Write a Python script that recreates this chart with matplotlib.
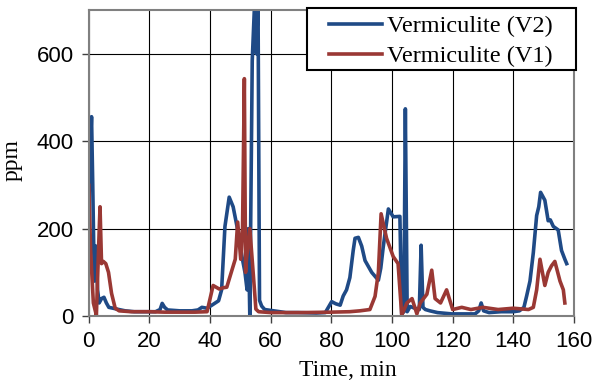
import matplotlib.pyplot as plt
from matplotlib.patches import Rectangle

# V2 (blue) series: time in min, concentration in ppm
t_v2 = [0, 0.5, 0.9, 1.3, 1.8, 2.4, 2.9, 3.4, 4.2, 5.0,
        5.8, 6.6, 8, 9.9, 12, 15, 18, 22, 23.5, 24.2,
        25, 26, 30, 34, 36, 37.3, 39, 40.6, 42.8, 43.8,
        44.9, 46.3, 47.6, 49.3, 50.4, 51.5, 52.2, 52.6, 53.1, 53.9,
        54.7, 55.3, 55.8, 56.3, 57, 58, 61, 65, 69, 75,
        78, 80.1, 81.5, 82.9, 83.9, 85, 86.1, 87.2, 87.8, 88.9,
        90, 91.1, 93.3, 95.5, 96.3, 97.1, 98.8, 100.4, 102.6, 103.2,
        103.9, 104.4, 105, 106, 107.5, 109, 109.6, 110.2, 111, 112.5,
        115, 119.7, 124, 127.4, 128.6, 129.4, 130.2, 132, 136, 140,
        142, 143.5, 144.4, 145.5, 146.6, 147.7, 148.4, 149, 150.4, 151.5,
        152.2, 153.2, 154.2, 154.8, 155.9, 157, 157.6]
ppm_v2 = [250, 380, 456, 300, 80, 160, 60, 30, 40, 43,
          30, 20, 18, 15, 12, 10, 10, 10, 15, 29,
          20, 14, 12, 12, 14, 20, 18, 25, 35, 60,
          205, 272, 250, 190, 140, 100, 60, 200, 0, 584,
          720, 600, 730, 36, 23, 15, 12, 8, 8, 7,
          8, 33, 28, 25, 46, 60, 88, 150, 178, 180,
          160, 127, 100, 82, 110, 158, 245, 227, 228, 5,
          10, 474, 10, 22, 18, 15, 162, 20, 15, 12,
          8, 5, 5, 5, 12, 30, 12, 8, 10, 10,
          12, 20, 46, 80, 145, 230, 250, 283, 265, 218,
          220, 205, 200, 197, 150, 130, 120]

# V1 (red) series
t_v1 = [0, 0.6, 1.5, 2.5, 3.2, 3.7, 4.2, 4.8, 5.6, 6.5,
        7.5, 8.7, 10, 14, 20, 25, 30, 35, 39, 40,
        41, 43, 44.5, 45.5, 47.2, 48.3, 49.1, 50.1, 50.7, 51.3,
        51.7, 52, 53.1, 54.2, 55.1, 56, 60, 70, 80, 86,
        89.4, 92.7, 94.4, 95.5, 96.4, 98.2, 100.4, 102, 103.2, 104.9,
        106.6, 108.2, 109.3, 111.5, 113.1, 114.2, 116, 118, 120, 123,
        126, 130, 135, 140, 145, 146.6, 147.7, 148.8, 150.4, 151.5,
        152.6, 153.7, 155.4, 156.5, 157]
ppm_v1 = [299, 150, 30, 2, 150, 250, 120, 125, 120, 100,
          52, 18, 12, 10, 10, 9, 9, 9, 10, 40,
          70, 62, 65, 66, 105, 130, 215, 130, 200, 543,
          100, 130, 200, 100, 16, 10, 8, 8, 9, 10,
          12, 15, 45, 100, 234, 178, 136, 120, 2, 30,
          40, 5, 30, 50, 105, 40, 30, 60, 15, 20,
          15, 20, 15, 18, 15, 20, 60, 130, 70, 100,
          115, 125, 80, 60, 30]

serif = "Liberation Serif"
sans = "Liberation Sans"

fig = plt.figure(figsize=(5.96, 3.85), dpi=100)
ax = fig.add_axes([0.149, 0.179, 0.814, 0.795])

ax.plot(t_v2, ppm_v2, color="#1f4a86", lw=2.6, label="Vermiculite (V2)")
ax.plot(t_v1, ppm_v1, color="#9a3834", lw=2.6, label="Vermiculite (V1)")

ax.set_xlim(0, 160)
ax.set_ylim(0, 700)
ax.set_xticks(range(0, 161, 20))
ax.set_yticks(range(0, 601, 200))
ax.grid(True, color="black", lw=0.8)
ax.set_axisbelow(True)
for s in ax.spines.values():
    s.set_color("#808080")
    s.set_linewidth(1.5)
ax.tick_params(direction="out", length=5, width=1, color="#404040", labelsize=16)
ax.tick_params(axis="x", pad=6)
ax.tick_params(axis="y", pad=6)
for lab in ax.get_xticklabels() + ax.get_yticklabels():
    lab.set_family(sans)

ax.set_xlabel("Time, min", family=serif, fontsize=17)
ax.set_ylabel("ppm", family=serif, fontsize=17)
ax.xaxis.set_label_coords(0.533, -0.145)
ax.yaxis.set_label_coords(-0.136, 0.51)

# legend box is wider than its contents (Excel style), so draw the frame separately
frame = Rectangle((0.4495, 0.804), 0.5545, 0.2025, transform=ax.transAxes,
                  facecolor="white", edgecolor="black", lw=1.5,
                  clip_on=False, zorder=5)
ax.add_patch(frame)
leg = ax.legend(loc="upper left", bbox_to_anchor=(0.495, 0.983),
                prop={"family": serif, "size": 17.5}, frameon=False,
                handlelength=2.2, handletextpad=0.2, borderaxespad=0,
                labelspacing=0.33, borderpad=0)
leg.set_zorder(6)

fig.savefig("out.png", dpi=100)
